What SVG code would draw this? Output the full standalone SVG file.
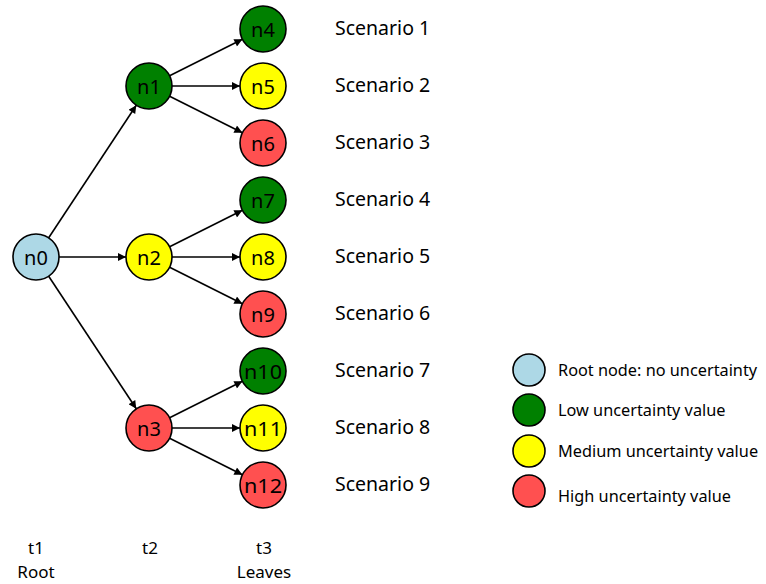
<svg xmlns="http://www.w3.org/2000/svg" width="766" height="584" viewBox="0 0 766 584">
<style>
.n{stroke:#000;stroke-width:1.6}
.root{fill:#add8e6}.lo{fill:#008000}.md{fill:#ffff00}.hi{fill:#ff5050}
.t{font-family:"Noto Sans","DejaVu Sans",sans-serif;fill:#000}
.nl{font-size:20px;text-anchor:middle;dominant-baseline:central}
.sc{font-size:19.5px}
.lg{font-size:16.3px}
.ax{font-size:17px;text-anchor:middle}
.e{stroke:#000;stroke-width:1.6;fill:none;marker-end:url(#ah)}
</style>
<defs>
<marker id="ah" viewBox="0 0 10 10" refX="10" refY="5" markerWidth="10" markerHeight="8" markerUnits="userSpaceOnUse" orient="auto">
<path d="M0,0 L10,5 L0,10 z" fill="#000"/>
</marker>
</defs>
<rect width="766" height="584" fill="#fff"/>
<g id="connectors">
<line class="e" x1="48.7" y1="237.8" x2="136.3" y2="105.2"/>
<line class="e" x1="59" y1="257" x2="126" y2="257"/>
<line class="e" x1="48.7" y1="276.2" x2="136.3" y2="408.8"/>
<line class="e" x1="169.6" y1="75.7" x2="242.4" y2="39.3"/>
<line class="e" x1="172" y1="86" x2="240" y2="86"/>
<line class="e" x1="169.6" y1="96.3" x2="242.4" y2="132.7"/>
<line class="e" x1="169.6" y1="246.7" x2="242.4" y2="210.3"/>
<line class="e" x1="172" y1="257" x2="240" y2="257"/>
<line class="e" x1="169.6" y1="267.3" x2="242.4" y2="303.7"/>
<line class="e" x1="169.6" y1="417.7" x2="242.4" y2="381.3"/>
<line class="e" x1="172" y1="428" x2="240" y2="428"/>
<line class="e" x1="169.6" y1="438.3" x2="242.4" y2="474.7"/>
</g>
<g id="n0"><circle class="n root" cx="36" cy="257" r="23"/><text class="t nl" x="36" y="257">n0</text></g>
<g id="n1"><circle class="n lo" cx="149" cy="86" r="23"/><text class="t nl" x="149" y="86">n1</text></g>
<g id="n2"><circle class="n md" cx="149" cy="257" r="23"/><text class="t nl" x="149" y="257">n2</text></g>
<g id="n3"><circle class="n hi" cx="149" cy="428" r="23"/><text class="t nl" x="149" y="428">n3</text></g>
<g id="n4"><circle class="n lo" cx="263" cy="29" r="23"/><text class="t nl" x="263" y="29">n4</text></g>
<g id="n5"><circle class="n md" cx="263" cy="86" r="23"/><text class="t nl" x="263" y="86">n5</text></g>
<g id="n6"><circle class="n hi" cx="263" cy="143" r="23"/><text class="t nl" x="263" y="143">n6</text></g>
<g id="n7"><circle class="n lo" cx="263" cy="200" r="23"/><text class="t nl" x="263" y="200">n7</text></g>
<g id="n8"><circle class="n md" cx="263" cy="257" r="23"/><text class="t nl" x="263" y="257">n8</text></g>
<g id="n9"><circle class="n hi" cx="263" cy="314" r="23"/><text class="t nl" x="263" y="314">n9</text></g>
<g id="n10"><circle class="n lo" cx="263" cy="371" r="23"/><text class="t nl" x="263" y="371" textLength="38" lengthAdjust="spacingAndGlyphs">n10</text></g>
<g id="n11"><circle class="n md" cx="263" cy="428" r="23"/><text class="t nl" x="263" y="428" textLength="38" lengthAdjust="spacingAndGlyphs">n11</text></g>
<g id="n12"><circle class="n hi" cx="263" cy="485" r="23"/><text class="t nl" x="263" y="485" textLength="38" lengthAdjust="spacingAndGlyphs">n12</text></g>
<g id="scenarios" class="t sc">
<text x="335" y="35">Scenario 1</text>
<text x="335" y="92">Scenario 2</text>
<text x="335" y="149">Scenario 3</text>
<text x="335" y="206">Scenario 4</text>
<text x="335" y="263">Scenario 5</text>
<text x="335" y="320">Scenario 6</text>
<text x="335" y="377">Scenario 7</text>
<text x="335" y="434">Scenario 8</text>
<text x="335" y="491">Scenario 9</text>
</g>
<g id="legend">
<circle class="n root" cx="529" cy="370" r="16"/>
<circle class="n lo" cx="529" cy="410" r="16"/>
<circle class="n md" cx="529" cy="451" r="16"/>
<circle class="n hi" cx="529" cy="491" r="16"/>
<text class="t lg" x="558" y="376">Root node: no uncertainty</text>
<text class="t lg" x="558" y="416">Low uncertainty value</text>
<text class="t lg" x="558" y="457">Medium uncertainty value</text>
<text class="t lg" x="558" y="502">High uncertainty value</text>
</g>
<g id="axis" class="t ax">
<text x="36" y="554">t1</text>
<text x="36" y="578">Root</text>
<text x="150" y="554">t2</text>
<text x="264" y="554">t3</text>
<text x="264" y="578">Leaves</text>
</g>
</svg>
